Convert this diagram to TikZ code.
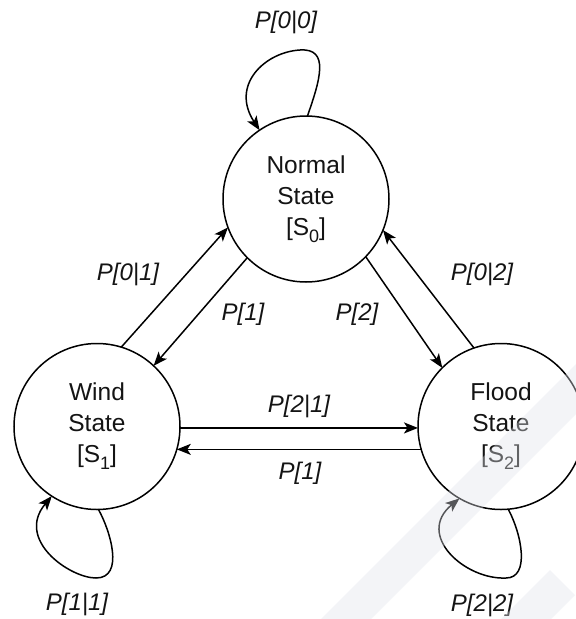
\documentclass[tikz,border=0pt]{standalone}
\usepackage{fontspec}
\setmainfont{Liberation Sans}
\usetikzlibrary{arrows.meta}
% lowered, smaller index digit for the state names
\newcommand\subidx[1]{\raisebox{-0.28em}{\fontsize{18}{18}\selectfont #1}}

\begin{document}
\begin{tikzpicture}[x=1pt,y=-1pt,
  state/.style={circle, draw, line width=1.5pt, minimum size=166pt, inner sep=0pt,
    outer sep=0pt, fill=white, align=center, font=\fontsize{24.5}{31}\selectfont, text=black!92},
  trans/.style={-{Stealth[length=14pt,width=11pt,inset=3.5pt]}, line width=1.5pt},
  lbl/.style={font=\fontsize{24}{24}\selectfont\itshape, inner sep=0pt, text=black!92},
  wmark/.style={fill={rgb,255:red,226;green,228;blue,235}, fill opacity=0.38, draw=none}]

\fill[white] (0,0) rectangle (576,619);
\path[use as bounding box, clip] (0,0) rectangle (576,619);

% states
\node[state] (normal) at (306,199)   {Normal\\State\\{}[S\subidx{0}]};
\node[state] (wind)   at (97,426.5)  {Wind\\State\\{}[S\subidx{1}]};
\node[state] (flood)  at (501,426.5) {Flood\\State\\{}[S\subidx{2}]};

% transitions between states
\draw[trans] (wind.-1)     -- (flood.181);
\draw[trans] (flood.196.4) -- (wind.-16.4);
\draw[trans] (wind.73)     -- (normal.200);
\draw[trans] (normal.225)  -- (wind.47);
\draw[trans] (normal.-44)  -- (flood.135);
\draw[trans] (flood.109)   -- (normal.-22);

% self loops
\draw[trans] (normal.89) .. controls (320,80) and (330,48) .. (300,50)
                         .. controls (265,52) and (230,85) .. (normal.124);
\draw[trans] (wind.-89) .. controls (110,530) and (125,578) .. (96,578)
                        .. controls (70,578) and (15,540) .. (wind.237);
\draw[trans] (flood.-85) .. controls (522,535) and (530,578) .. (506,578)
                         .. controls (465,580) and (415,535) .. (flood.240);

% transition probabilities
\node[lbl] (l00) at (286,22)  {P[0|0]};
\node[lbl] (l01) at (128,274) {P[0|1]};
\node[lbl] (l1a) at (243,314) {P[1]};
\node[lbl] (l2)  at (357,314) {P[2]};
\node[lbl] (l02) at (482,274) {P[0|2]};
\node[lbl] (l21) at (299,406) {P[2|1]};
\node[lbl] (l1b) at (300,473) {P[1]};
\node[lbl] (l11) at (77,604)  {P[1|1]};
\node[lbl] (l22) at (482,605) {P[2|2]};

% faint diagonal stripes in the lower right corner
\path[wmark] (321,619) -- (576,364) -- (576,414) -- (371,619) -- cycle;
\path[wmark] (550,570) -- (575,595) -- (551,619) -- (501,619) -- cycle;
\end{tikzpicture}
\end{document}
